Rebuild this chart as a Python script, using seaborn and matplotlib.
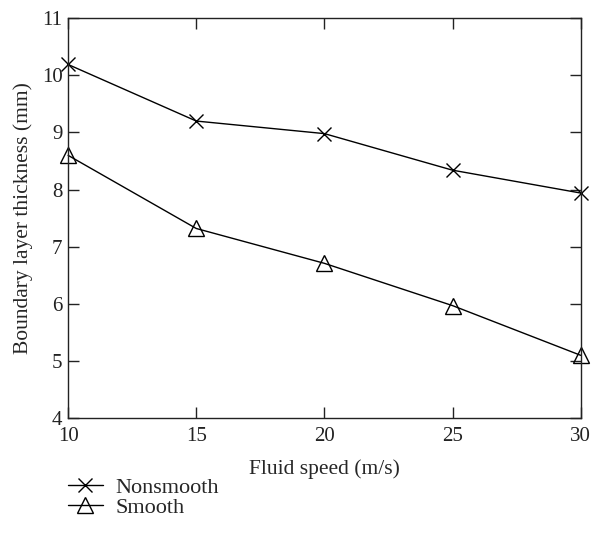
import pandas as pd
import seaborn as sns
import matplotlib.pyplot as plt

speed = [10, 15, 20, 25, 30]
nonsmooth = [10.19, 9.20, 8.98, 8.34, 7.94]
smooth = [8.60, 7.32, 6.71, 5.97, 5.10]

sns.set_style('ticks')
plt.rcParams['font.family'] = ['Liberation Serif', 'DejaVu Serif']

fig = plt.figure(figsize=(5.92, 5.51), dpi=100)
ax = fig.add_axes([0.115, 0.241, 0.866, 0.726])

df_n = pd.DataFrame({'speed': speed, 'thick': nonsmooth})
df_s = pd.DataFrame({'speed': speed, 'thick': smooth})

sns.lineplot(data=df_n, x='speed', y='thick', ax=ax, color='black', lw=1,
             marker='x', markersize=10, mec='black', mew=1, label='Nonsmooth',
             clip_on=False)
sns.lineplot(data=df_s, x='speed', y='thick', ax=ax, color='black', lw=1,
             marker='^', markersize=11, mec='black', mfc='none', mew=1, label='Smooth',
             clip_on=False)

ax.set_xlim(10, 30)
ax.set_ylim(4, 11)
ax.set_xticks([10, 15, 20, 25, 30])
ax.set_yticks(range(4, 12))
ax.tick_params(direction='in', length=8, width=1, top=True, right=True,
               labelsize=15, colors='#222222')
ax.tick_params(axis='x', pad=6)
ax.tick_params(axis='y', pad=4)
for s in ax.spines.values():
    s.set_linewidth(1)
    s.set_color('#222222')
ax.set_xlabel('Fluid speed (m/s)', fontsize=15.5, labelpad=10)
ax.set_ylabel('Boundary layer thickness (mm)', fontsize=15.5, labelpad=6)

h, l = ax.get_legend_handles_labels()
ax.get_legend().remove()
fig.legend(h, l, loc='upper left', bbox_to_anchor=(0.115, 0.133), frameon=False,
           borderpad=0, borderaxespad=0,
           fontsize=16, handlelength=1.55, handletextpad=0.6, labelspacing=-0.05)

fig.savefig('out.png', dpi=100)
